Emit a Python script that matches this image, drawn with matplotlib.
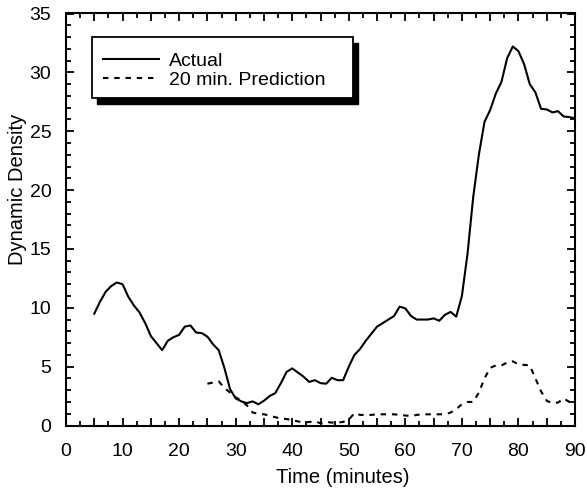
import matplotlib
matplotlib.use("Agg")
import matplotlib.pyplot as plt
from matplotlib.ticker import MultipleLocator, FuncFormatter
from matplotlib.patches import Rectangle

plt.rcParams['font.family'] = ['Liberation Sans', 'DejaVu Sans']

# Actual dynamic density, 1-minute steps from t=5 to t=90
actual_t = list(range(5, 91))
actual_v = [9.5, 10.5, 11.35, 11.85, 12.15, 12.0, 10.95, 10.2, 9.6, 8.7,
            7.6, 7.0, 6.4, 7.2, 7.5, 7.7, 8.4, 8.5, 7.9, 7.85,
            7.55, 6.9, 6.4, 4.9, 3.1, 2.3, 2.05, 1.9, 2.05, 1.8,
            2.1, 2.5, 2.75, 3.6, 4.55, 4.85, 4.5, 4.15, 3.7, 3.85,
            3.6, 3.55, 4.05, 3.85, 3.85, 5.0, 6.0, 6.5, 7.2, 7.8,
            8.4, 8.7, 9.0, 9.3, 10.1, 9.95, 9.3, 9.0, 9.0, 9.0,
            9.1, 8.9, 9.4, 9.65, 9.25, 11.0, 14.6, 19.4, 23.0, 25.8,
            26.8, 28.2, 29.2, 31.2, 32.2, 31.8, 30.7, 29.0, 28.3, 26.9,
            26.85, 26.6, 26.7, 26.25, 26.2, 26.1]

# 20 min. prediction, 1-minute steps from t=25 to t=90
pred_t = list(range(25, 91))
pred_v = [3.55, 3.65, 3.75, 3.2, 2.8, 2.4, 2.1, 1.7, 1.1, 1.0,
          0.95, 0.85, 0.7, 0.6, 0.55, 0.45, 0.35, 0.25, 0.3, 0.35,
          0.2, 0.3, 0.25, 0.25, 0.3, 0.5, 1.05, 0.9, 0.9, 0.9,
          0.95, 0.95, 0.95, 0.95, 0.9, 0.85, 0.8, 0.9, 0.95, 0.95,
          0.95, 0.95, 0.95, 1.1, 1.4, 1.8, 2.0, 2.0, 2.8, 4.0,
          4.9, 5.1, 5.1, 5.35, 5.45, 5.2, 5.15, 5.1, 4.0, 2.9,
          2.1, 1.9, 1.95, 2.3, 2.0, 2.3]

labels = ["Actual", "20 min. Prediction"]

fig = plt.figure(figsize=(5.87, 4.93), dpi=100)
ax = fig.add_axes([66/587, 1 - 425.5/493, 509/587, 412/493])

ax.plot(actual_t, actual_v, color='black', lw=1.5, label=labels[0])
ax.plot(pred_t, pred_v, color='black', lw=1.5, linestyle=(0, (2.6, 2.8)), label=labels[1])

ax.set_xlim(0, 90)
ax.set_ylim(0, 35)
ax.xaxis.set_major_locator(MultipleLocator(5))
ax.xaxis.set_minor_locator(MultipleLocator(2.5))
ax.xaxis.set_major_formatter(FuncFormatter(lambda v, p: f"{int(round(v))}" if round(v) % 10 == 0 else ""))
ax.yaxis.set_major_locator(MultipleLocator(5))
ax.yaxis.set_minor_locator(MultipleLocator(1))

ax.tick_params(which='both', direction='in', top=True, right=True, width=1.3, labelsize=14, colors='black')
ax.tick_params(which='major', length=6)
ax.tick_params(which='minor', length=3.5)
ax.tick_params(axis='x', which='major', pad=12.5)
ax.tick_params(axis='y', which='major', pad=10.5)
for s in ax.spines.values():
    s.set_linewidth(1.5)

ax.set_xlabel("Time (minutes)", fontsize=14.5)
ax.xaxis.label.set_verticalalignment('top')
ax.xaxis.set_label_coords(0.544, -0.102)
ax.set_ylabel("Dynamic Density", fontsize=14.5)
ax.yaxis.label.set_verticalalignment('center')
ax.yaxis.set_label_coords(-48/509, 0.572)

# legend box with solid shadow
bx0, bx1, by0, by1 = 0.051, 0.564, 0.795, 0.943
dx, dy = 5/509, -6/412
ax.add_patch(Rectangle((bx0 + dx, by0 + dy), bx1 - bx0, by1 - by0, transform=ax.transAxes,
                       facecolor='black', edgecolor='black', zorder=4))
ax.add_patch(Rectangle((bx0, by0), bx1 - bx0, by1 - by0, transform=ax.transAxes,
                       facecolor='white', edgecolor='black', lw=1.3, zorder=5))
leg = ax.legend(loc='center left', bbox_to_anchor=(0.072, (by0 + by1) / 2 - 3/412), frameon=False,
                fontsize=14, handlelength=2.9, handletextpad=0.5, labelspacing=0.05,
                borderpad=0, borderaxespad=0)
leg.set_zorder(6)

fig.savefig("out.png", dpi=100)
